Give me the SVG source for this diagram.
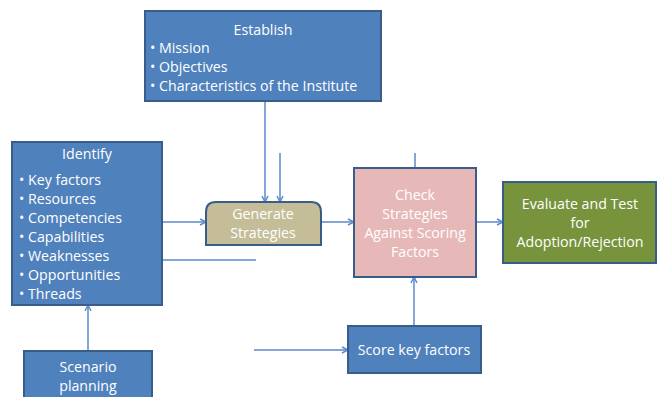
<svg xmlns="http://www.w3.org/2000/svg" width="657" height="397" viewBox="0 0 657 397">
<defs>
<style>
.box{stroke:#385D8A;stroke-width:2}
.blue{fill:#4F81BD}
.t{font-family:"Open Sans","Liberation Sans",Arial,sans-serif;font-size:14.2px;fill:#fff}
.c{text-anchor:middle}
.conn line{stroke:#5B8ACB;stroke-width:1.5}
</style>
<marker id="ah" markerWidth="8" markerHeight="8" refX="7" refY="4" orient="auto" markerUnits="userSpaceOnUse">
<path d="M1,1 L7,4 L1,7" fill="none" stroke="#5B8ACB" stroke-width="1.5"/>
</marker>
</defs>
<rect width="657" height="397" fill="#fff"/>
<g class="conn">
<line x1="265" y1="101" x2="265" y2="202" marker-end="url(#ah)"/>
<line x1="280" y1="153" x2="280" y2="202" marker-end="url(#ah)"/>
<line x1="162" y1="222" x2="206" y2="222" marker-end="url(#ah)"/>
<line x1="321" y1="222" x2="354" y2="222" marker-end="url(#ah)"/>
<line x1="476" y1="222" x2="503" y2="222" marker-end="url(#ah)"/>
<line x1="415" y1="153" x2="415" y2="168"/>
<line x1="414" y1="326" x2="414" y2="277" marker-end="url(#ah)"/>
<line x1="254" y1="350" x2="348" y2="350" marker-end="url(#ah)"/>
<line x1="88" y1="351" x2="88" y2="305" marker-end="url(#ah)"/>
<line x1="162" y1="260" x2="256" y2="260"/>
</g>
<g id="establish">
<rect class="box blue" x="145" y="11" width="236" height="90"/>
<text class="t c" x="263" y="35">Establish</text>
<text class="t" x="150" y="53">• Mission</text>
<text class="t" x="150" y="72">• Objectives</text>
<text class="t" x="150" y="91">• Characteristics of the Institute</text>
</g>
<g id="identify">
<rect class="box blue" x="12" y="142" width="150" height="163"/>
<text class="t c" x="87" y="159">Identify</text>
<text class="t" x="19" y="185">• Key factors</text>
<text class="t" x="19" y="204">• Resources</text>
<text class="t" x="19" y="223">• Competencies</text>
<text class="t" x="19" y="242">• Capabilities</text>
<text class="t" x="19" y="261">• Weaknesses</text>
<text class="t" x="19" y="280">• Opportunities</text>
<text class="t" x="19" y="299">• Threads</text>
</g>
<g id="generate">
<path class="box" fill="#C4BD97" d="M216,202 H311 Q321,202 321,212 V245 H206 V212 Q206,202 216,202 Z"/>
<text class="t c" x="263" y="219">Generate</text>
<text class="t c" x="263" y="238">Strategies</text>
</g>
<g id="check">
<rect class="box" fill="#E6B9B8" x="354" y="168" width="122" height="109"/>
<text class="t c" x="415" y="200">Check</text>
<text class="t c" x="415" y="219">Strategies</text>
<text class="t c" x="415" y="238">Against Scoring</text>
<text class="t c" x="415" y="257">Factors</text>
</g>
<g id="evaluate">
<rect class="box" fill="#77933C" x="503" y="182" width="153" height="81"/>
<text class="t c" x="580" y="209">Evaluate and Test</text>
<text class="t c" x="580" y="228">for</text>
<text class="t c" x="580" y="247">Adoption/Rejection</text>
</g>
<g id="score">
<rect class="box blue" x="348" y="326" width="133" height="47"/>
<text class="t c" x="414" y="355">Score key factors</text>
</g>
<g id="scenario">
<rect class="box blue" x="24" y="351" width="128" height="60"/>
<text class="t c" x="88" y="372">Scenario</text>
<text class="t c" x="88" y="391">planning</text>
</g>
</svg>
